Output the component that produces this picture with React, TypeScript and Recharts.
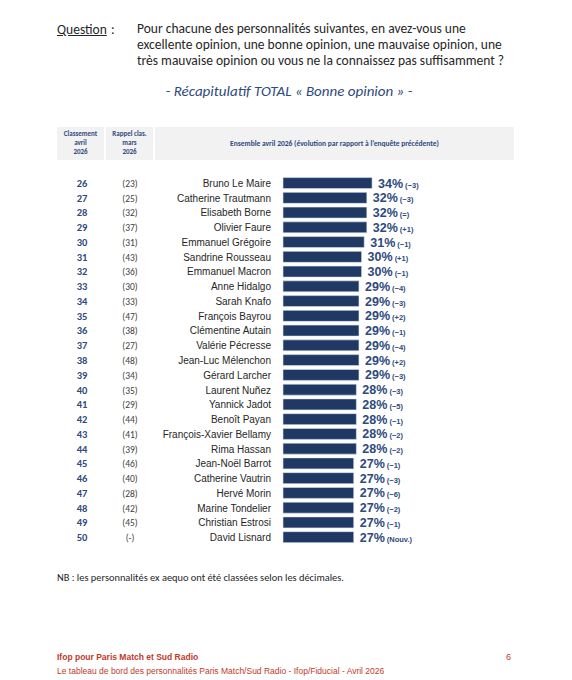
import React from "react";
import { Bar, BarChart, LabelList, XAxis, YAxis } from "recharts";

const ranks = [26, 27, 28, 29, 30, 31, 32, 33, 34, 35, 36, 37, 38, 39, 40, 41, 42, 43, 44, 45, 46, 47, 48, 49, 50];
const previous = ["(23)", "(25)", "(32)", "(37)", "(31)", "(43)", "(36)", "(30)", "(33)", "(47)", "(38)", "(27)", "(48)", "(34)", "(35)", "(29)", "(44)", "(41)", "(39)", "(46)", "(40)", "(28)", "(42)", "(45)", "(-)"];
const names = [
  "Bruno Le Maire", "Catherine Trautmann", "Elisabeth Borne", "Olivier Faure", "Emmanuel Grégoire",
  "Sandrine Rousseau", "Emmanuel Macron", "Anne Hidalgo", "Sarah Knafo", "François Bayrou",
  "Clémentine Autain", "Valérie Pécresse", "Jean-Luc Mélenchon", "Gérard Larcher", "Laurent Nuñez",
  "Yannick Jadot", "Benoît Payan", "François-Xavier Bellamy", "Rima Hassan", "Jean-Noël Barrot",
  "Catherine Vautrin", "Hervé Morin", "Marine Tondelier", "Christian Estrosi", "David Lisnard",
];
const values = [34, 32, 32, 32, 31, 30, 30, 29, 29, 29, 29, 29, 29, 29, 28, 28, 28, 28, 28, 27, 27, 27, 27, 27, 27];
const changes = ["(−3)", "(−3)", "(=)", "(+1)", "(−1)", "(+1)", "(−1)", "(−4)", "(−3)", "(+2)", "(−1)", "(−4)", "(+2)", "(−3)", "(−3)", "(−5)", "(−1)", "(−2)", "(−2)", "(−1)", "(−3)", "(−6)", "(−2)", "(−1)", "(Nouv.)"];

const data = names.map((name, i) => ({
  name,
  rank: ranks[i],
  prev: previous[i],
  value: values[i],
  change: changes[i],
}));

const NAVY = "#1f3864";
const RANK_BLUE = "#2e4a7d";
const CALIBRI = "Carlito, Lato, 'Open Sans', sans-serif";
const ARIAL = "'Liberation Sans', Arial, sans-serif";

function NameTick(props: any) {
  const { x, y, payload, index } = props;
  const row = data[index] ?? data.find((d) => d.name === payload.value);
  return (
    <g>
      <text x={82} y={y} dy={4} textAnchor="middle" fontFamily={CALIBRI} fontWeight={700} fontSize={10.5} fill={RANK_BLUE}>
        {row?.rank}
      </text>
      <text x={130} y={y} dy={4} textAnchor="middle" fontFamily={CALIBRI} fontSize={9.5} fill="#404040">
        {row?.prev}
      </text>
      <text x={x - 4} y={y} dy={4} textAnchor="end" fontFamily={ARIAL} fontSize={10} fill="#262626">
        {payload.value}
      </text>
    </g>
  );
}

function ValueLabel(props: any) {
  const { x, y, width, height, index } = props;
  const row = data[index];
  return (
    <text x={x + width + 6} y={y + height / 2} dy={4.5} fontFamily={ARIAL} fill={RANK_BLUE}>
      <tspan fontWeight={700} fontSize={12.5}>{row.value}%</tspan>
      <tspan fontWeight={700} fontSize={7.5} dx={2}>{row.change}</tspan>
    </text>
  );
}

const headBox: React.CSSProperties = {
  position: "absolute",
  top: 127,
  height: 33,
  background: "#f2f2f2",
  color: RANK_BLUE,
  fontSize: 7,
  fontWeight: 700,
  textAlign: "center",
};

export default function App() {
  return (
    <div style={{ position: "absolute", left: 0, top: 0, width: 572, height: 680, background: "#fff", fontFamily: CALIBRI }}>
      <div style={{ position: "absolute", left: 57, top: 21, fontSize: 13.5, color: "#262626", textDecoration: "underline" }}>Question</div>
      <div style={{ position: "absolute", left: 111, top: 21, fontSize: 13.5, color: "#262626" }}>:</div>
      <div style={{ position: "absolute", left: 137, top: 21, width: 420, fontSize: 13.5, lineHeight: "16px", color: "#262626", whiteSpace: "nowrap" }}>
        Pour chacune des personnalités suivantes, en avez-vous une<br />
        excellente opinion, une bonne opinion, une mauvaise opinion, une<br />
        très mauvaise opinion ou vous ne la connaissez pas suffisamment ?
      </div>
      <div style={{ position: "absolute", left: 0, width: 578, top: 82, textAlign: "center", fontSize: 15, fontStyle: "italic", color: "#2e4a7d" }}>
        - Récapitulatif TOTAL « Bonne opinion » -
      </div>

      <div style={{ ...headBox, left: 57, width: 47, lineHeight: "9px", paddingTop: 2, boxSizing: "border-box" }}>
        Classement<br />avril<br />2026
      </div>
      <div style={{ ...headBox, left: 106, width: 47, lineHeight: "9px", paddingTop: 2, boxSizing: "border-box" }}>
        Rappel clas.<br />mars<br />2026
      </div>
      <div style={{ ...headBox, left: 155, width: 359, fontSize: 7.5, lineHeight: "33px" }}>
        Ensemble avril 2026 (évolution par rapport à l’enquête précédente)
      </div>

      <div style={{ position: "absolute", left: 0, top: 0 }}>
        <BarChart
          width={572}
          height={680}
          data={data}
          layout="vertical"
          margin={{ top: 175.6, right: 27, bottom: 135.6, left: 0 }}
        >
          <XAxis type="number" domain={[0, 100]} hide />
          <YAxis
            type="category"
            dataKey="name"
            width={283}
            axisLine={false}
            tickLine={false}
            interval={0}
            tick={<NameTick />}
          />
          <Bar dataKey="value" fill={NAVY} stroke="#dfe4ee" strokeWidth={0.6} barSize={11} isAnimationActive={false}>
            <LabelList dataKey="value" content={<ValueLabel />} />
          </Bar>
        </BarChart>
      </div>

      <div style={{ position: "absolute", left: 57, top: 571, fontSize: 10.4, color: "#262626" }}>
        NB : les personnalités ex aequo ont été classées selon les décimales.
      </div>
      <div style={{ position: "absolute", left: 57, top: 652, fontSize: 8.5, fontWeight: 700, color: "#c0392b", fontFamily: ARIAL }}>
        Ifop pour Paris Match et Sud Radio
      </div>
      <div style={{ position: "absolute", left: 506, top: 652, fontSize: 9, color: "#c0392b", fontFamily: ARIAL }}>6</div>
      <div style={{ position: "absolute", left: 57, top: 666, fontSize: 8.5, color: "#c0392b", fontFamily: ARIAL }}>
        Le tableau de bord des personnalités Paris Match/Sud Radio - Ifop/Fiducial - Avril 2026
      </div>
    </div>
  );
}
